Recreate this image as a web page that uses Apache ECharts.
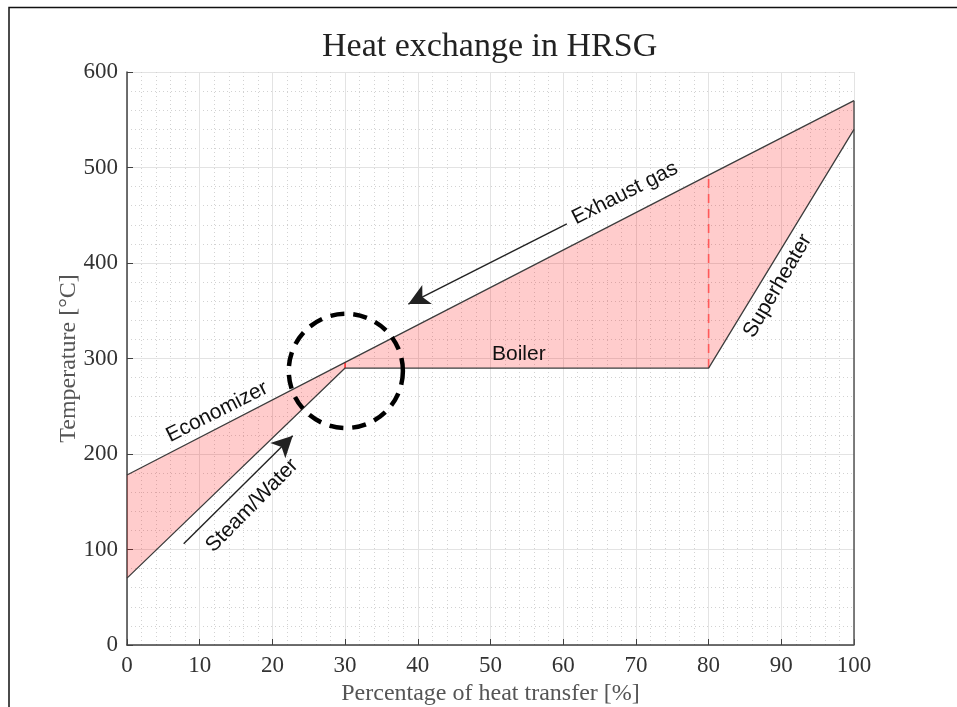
<!DOCTYPE html>
<html>
<head>
<meta charset="utf-8">
<title>Heat exchange in HRSG</title>
<script src="https://cdn.jsdelivr.net/npm/echarts@6/dist/echarts.min.js"></script>
<style>
  html, body { margin: 0; padding: 0; background: #fff; }
  #chart { width: 957px; height: 707px; }
</style>
</head>
<body>
<div id="chart"></div>
<script>
// Temperature profiles along the heat recovery steam generator
const heatPct    = [0, 30, 80, 100];          // % of heat transferred
const gasTemp    = [178, 296, 492, 570];      // exhaust gas, °C
const waterTemp  = [70, 290, 290, 540];       // steam / water, °C

const xTicks = [0, 10, 20, 30, 40, 50, 60, 70, 80, 90, 100];
const yTicks = [0, 100, 200, 300, 400, 500, 600];

// Annotation anchors in data coordinates [x %, y °C]
const gasArrow   = [[60.5, 441], [38.7, 357]];
const waterArrow = [[7.8, 106], [22.8, 219]];
const pinchCentre = [30.1, 287];
const labels = [
  { text: 'Exhaust gas', at: [68.5, 473], angle: 26.9 },
  { text: 'Economizer',  at: [12.4, 244], angle: 26.8 },
  { text: 'Steam/Water', at: [17.2, 146], angle: 45.5 },
  { text: 'Boiler',      at: [53.9, 304], angle: 0 },
  { text: 'Superheater', at: [89.5, 376], angle: 59.6 }
];

const gasLine   = heatPct.map((x, i) => [x, gasTemp[i]]);
const waterLine = heatPct.map((x, i) => [x, waterTemp[i]]);

const serif = '"Liberation Serif", "DejaVu Serif", serif';
const sans  = '"Liberation Sans", Arial, sans-serif';
const lineGrey = '#3d3d3d';

const chart = echarts.init(document.getElementById('chart'), null, { renderer: 'canvas' });

const axisCommon = {
  type: 'value',
  axisLine: { show: true, onZero: false, lineStyle: { color: '#404040', width: 1.5 } },
  axisTick: { show: true, inside: true, length: 6, lineStyle: { color: '#404040' } },
  axisLabel: { color: '#333', fontFamily: serif, fontSize: 23 },
  splitLine: { show: true, lineStyle: { color: '#e3e3e3', width: 1 } },
  minorTick: { show: false, splitNumber: 5 },
  minorSplitLine: { show: true, lineStyle: { color: '#d2d2d2', width: 1, type: [1, 3] } },
  nameLocation: 'middle',
  nameTextStyle: { color: '#555', fontFamily: serif, fontSize: 24 }
};

chart.setOption({
  animation: false,
  backgroundColor: '#fff',
  title: {
    text: 'Heat exchange in HRSG',
    left: 317, top: 25,
    textStyle: { fontFamily: serif, fontSize: 34, fontWeight: 'normal', color: '#222' }
  },
  grid: { left: 127, right: 103, top: 72, bottom: 62, containLabel: false, outerBoundsMode: 'none' },
  xAxis: Object.assign({}, axisCommon, {
    min: xTicks[0], max: xTicks[xTicks.length - 1], interval: 10,
    name: 'Percentage of heat transfer [%]', nameGap: 34,
    axisLabel: Object.assign({}, axisCommon.axisLabel, { margin: 9 })
  }),
  yAxis: Object.assign({}, axisCommon, {
    min: yTicks[0], max: yTicks[yTicks.length - 1], interval: 100,
    name: 'Temperature [°C]', nameGap: 46, nameMoveOverlap: false,
    axisLabel: Object.assign({}, axisCommon.axisLabel, { margin: 9 })
  }),
  series: [
    {
      // shaded region between the two temperature profiles
      type: 'custom',
      data: [0],
      silent: true,
      z: 2,
      renderItem: (params, api) => {
        const pts = gasLine.map(p => api.coord(p))
          .concat(waterLine.slice().reverse().map(p => api.coord(p)));
        return {
          type: 'polygon',
          shape: { points: pts },
          style: { fill: 'rgba(255,0,0,0.2)', stroke: null }
        };
      }
    },
    {
      name: 'Exhaust gas', type: 'line', data: gasLine, showSymbol: false, z: 4,
      lineStyle: { color: lineGrey, width: 1.3 }
    },
    {
      name: 'Steam/Water', type: 'line', data: waterLine, showSymbol: false, z: 4,
      lineStyle: { color: lineGrey, width: 1.3 }
    },
    {
      // boiler/superheater boundary
      type: 'line', showSymbol: false, z: 3,
      data: [[heatPct[2], waterTemp[2]], [heatPct[2], gasTemp[2]]],
      lineStyle: { color: '#ff5a5a', width: 1.6, type: [9, 6] }
    },
    {
      // pinch point gap
      type: 'line', showSymbol: false, z: 3,
      data: [[heatPct[1], waterTemp[1]], [heatPct[1], gasTemp[1]]],
      lineStyle: { color: '#ff3030', width: 1.6 }
    },
    {
      // right frame edge of the plot
      type: 'line', showSymbol: false, z: 3,
      data: [[heatPct[3], 0], [heatPct[3], gasTemp[3]]],
      lineStyle: { color: '#555', width: 1.5 }
    },
    {
      // flow direction arrows
      type: 'line', data: [], z: 5,
      markLine: {
        silent: true,
        symbol: ['none', 'arrow'],
        symbolSize: [16, 21],
        label: { show: false },
        lineStyle: { color: '#222', width: 1.4, type: 'solid' },
        data: [
          [{ coord: gasArrow[0] }, { coord: gasArrow[1] }],
          [{ coord: waterArrow[0] }, { coord: waterArrow[1] }]
        ]
      }
    }
  ]
});

// Text labels, pinch circle and page frame placed via the axis scales
function px(p) { return chart.convertToPixel({ gridIndex: 0 }, p); }
const centre = px(pinchCentre);
const rightEdge = px([pinchCentre[0] + 7.85, pinchCentre[1]]);
const graphics = labels.map(l => {
  const c = px(l.at);
  return {
    type: 'text', x: c[0], y: c[1], rotation: l.angle * Math.PI / 180, z: 10,
    style: {
      text: l.text, fontFamily: sans, fontSize: 21, fill: '#111',
      align: 'center', verticalAlign: 'middle'
    }
  };
});
graphics.push({
  type: 'circle', z: 10,
  shape: { cx: centre[0], cy: centre[1], r: rightEdge[0] - centre[0] },
  style: { fill: null, stroke: '#000', lineWidth: 4.5, lineDash: [14, 9] }
});
graphics.push({
  type: 'polyline', z: 10,
  shape: { points: [[9, 707], [9, 7.5], [957, 7.5]] },
  style: { fill: null, stroke: '#111', lineWidth: 1.5 }
});
chart.setOption({ graphic: graphics });
</script>
</body>
</html>
